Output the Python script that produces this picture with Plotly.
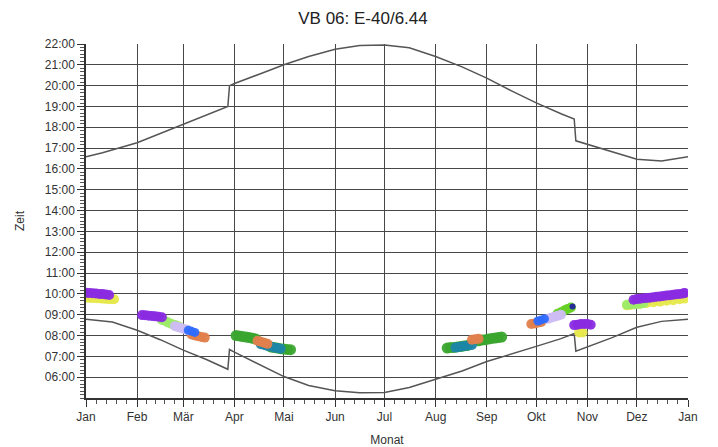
import plotly.graph_objects as go

# ---------------- data ----------------
month_starts = [0, 31, 59, 90, 120, 151, 181, 212, 243, 273, 304, 334, 365]
month_labels = ["Jan", "Feb", "Mär", "Apr", "Mai", "Jun", "Jul", "Aug", "Sep", "Okt", "Nov", "Dez", "Jan"]
hour_ticks = list(range(6, 23))
hour_labels = ["%02d:00" % h for h in hour_ticks]

# sunset curve (upper)
sunset_day = [0, 10, 31, 45, 59, 73, 86, 87, 90, 105, 120, 135, 151, 166, 181, 196, 212, 228, 243,
              258, 273, 288, 296, 297, 304, 319, 334, 349, 365]
sunset_hour = [16.58, 16.78, 17.26, 17.7, 18.17, 18.6, 19.0, 20.0, 20.1, 20.55, 21.0, 21.4, 21.75, 21.93,
               21.95, 21.82, 21.4, 20.9, 20.36, 19.75, 19.17, 18.65, 18.4, 17.35, 17.18, 16.8, 16.47, 16.38, 16.58]

# sunrise curve (lower)
sunrise_day = [0, 16, 31, 45, 59, 73, 86, 87, 90, 105, 120, 135, 151, 166, 181, 196, 212, 228, 243,
               258, 273, 288, 296, 297, 304, 319, 334, 349, 365]
sunrise_hour = [8.78, 8.65, 8.25, 7.8, 7.3, 6.85, 6.38, 7.33, 7.2, 6.6, 6.03, 5.6, 5.35, 5.25, 5.27,
                5.5, 5.9, 6.3, 6.75, 7.1, 7.48, 7.85, 8.1, 7.25, 7.45, 7.9, 8.4, 8.68, 8.78]

# shadow-time clusters (one list pair per colour)
purple_day = [0, 2, 4, 6, 8, 10, 12, 14,
              34, 36, 38, 40, 42, 44, 46,
              296, 298, 300, 302, 304, 306,
              332, 334, 336, 338, 340, 342, 344, 346, 348, 350, 352, 354, 356, 358, 360, 362, 363]
purple_hour = [10.05, 10.04, 10.03, 10.02, 10.0, 9.99, 9.97, 9.95,
               8.98, 8.97, 8.95, 8.94, 8.92, 8.9, 8.88,
               8.5, 8.52, 8.55, 8.55, 8.55, 8.52,
               9.72, 9.75, 9.77, 9.79, 9.8, 9.82, 9.84, 9.86, 9.88, 9.9, 9.92, 9.94, 9.96, 9.98, 10.0, 10.02, 10.04]

yellow_day = [1, 3, 5, 7, 9, 11, 13, 15, 17,
              299, 301,
              328, 330, 332, 336, 340, 344, 348, 352, 356, 360, 363]
yellow_hour = [9.82, 9.8, 9.8, 9.79, 9.78, 9.77, 9.76, 9.75, 9.74,
               8.15, 8.15,
               9.45, 9.47, 9.5, 9.53, 9.56, 9.6, 9.63, 9.67, 9.7, 9.74, 9.78]

lightgreen_day = [46, 48, 50, 52, 54, 56, 328, 330, 332, 334, 336, 338]
lightgreen_hour = [8.75, 8.7, 8.62, 8.55, 8.5, 8.45, 9.48, 9.5, 9.5, 9.52, 9.53, 9.55]

brightgreen_day = [286, 288, 290, 292, 294]
brightgreen_hour = [9.05, 9.12, 9.2, 9.28, 9.35]

lavender_day = [54, 56, 58, 60, 62, 280, 282, 284, 286, 288]
lavender_hour = [8.45, 8.4, 8.35, 8.3, 8.25, 8.8, 8.85, 8.9, 8.95, 9.0]

blue_day = [62, 64, 66, 274, 276, 278]
blue_hour = [8.25, 8.2, 8.15, 8.7, 8.75, 8.8]

orange_day = [64, 66, 68, 70, 72, 104, 106, 108, 110, 234, 236, 238, 270, 272, 274, 276]
orange_hour = [8.05, 8.0, 7.97, 7.93, 7.9, 7.75, 7.7, 7.65, 7.6, 7.8, 7.82, 7.84, 8.55, 8.58, 8.62, 8.65]

green_day = [91, 93, 95, 97, 99, 101, 103, 112, 114, 116, 118, 120, 122, 124,
             219, 221, 223, 225, 227, 229, 231, 238, 240, 242, 244, 246, 248, 250, 252]
green_hour = [8.0, 7.98, 7.95, 7.93, 7.9, 7.87, 7.83, 7.45, 7.42, 7.4, 7.37, 7.35, 7.33, 7.32,
              7.4, 7.42, 7.43, 7.45, 7.47, 7.5, 7.52, 7.75, 7.78, 7.8, 7.83, 7.86, 7.88, 7.9, 7.93]

teal_day = [106, 108, 110, 112, 114, 116, 118, 224, 226, 228, 230, 232, 234]
teal_hour = [7.58, 7.55, 7.5, 7.47, 7.43, 7.4, 7.37, 7.42, 7.45, 7.47, 7.5, 7.52, 7.55]

darkblue_day = [295]
darkblue_hour = [9.4]

# ---------------- figure ----------------
fig = go.Figure()

line_style = dict(color="#555555", width=1.5)
fig.add_trace(go.Scatter(x=sunset_day, y=sunset_hour, mode="lines", line=line_style, showlegend=False,
                         hoverinfo="skip"))
fig.add_trace(go.Scatter(x=sunrise_day, y=sunrise_hour, mode="lines", line=line_style, showlegend=False,
                         hoverinfo="skip"))

clusters = [
    (yellow_day, yellow_hour, "#E6E84C", 10),
    (lightgreen_day, lightgreen_hour, "#9EEB6A", 10),
    (brightgreen_day, brightgreen_hour, "#66D024", 10),
    (green_day, green_hour, "#3AA52E", 11),
    (teal_day, teal_hour, "#1C86A6", 10),
    (orange_day, orange_hour, "#E2804C", 10),
    (lavender_day, lavender_hour, "#CDBDF3", 10),
    (blue_day, blue_hour, "#2F6BFF", 9),
    (purple_day, purple_hour, "#8A2BE2", 10),
    (darkblue_day, darkblue_hour, "#23239E", 6),
]
for d, h, c, s in clusters:
    fig.add_trace(go.Scatter(x=d, y=h, mode="markers",
                             marker=dict(color=c, size=s, line=dict(width=0), opacity=0.95),
                             showlegend=False, hoverinfo="skip"))

# minor x ticks: each month split into five parts
minor_x = []
for a, b in zip(month_starts[:-1], month_starts[1:]):
    for k in range(1, 5):
        minor_x.append(a + (b - a) * k / 5)

font_family = "Liberation Sans, Arial, sans-serif"
grid_col = "#474747"
fig.update_layout(
    width=710, height=439,
    margin=dict(l=78, r=30, t=36, b=49, autoexpand=False),
    paper_bgcolor="white", plot_bgcolor="white",
    font=dict(family=font_family, size=12, color="#333333"),
    title=dict(text="VB 06: E-40/6.44", x=0.5, xanchor="center", y=1 - 10 / 439, yanchor="middle",
               yref="container", font=dict(size=17, color="#222222", family=font_family)),
    xaxis=dict(range=[0, 365], tickmode="array", tickvals=month_starts, ticktext=month_labels,
               showgrid=True, gridcolor=grid_col, gridwidth=1.4, automargin=False,
               showline=True, linecolor="#333333", linewidth=1.5,
               ticks="outside", ticklen=7, tickcolor="#333333", tickwidth=1.2,
               minor=dict(tickmode="array", tickvals=minor_x, ticks="outside", ticklen=4,
                          tickcolor="#555555", showgrid=False),
               zeroline=False, title=dict(text="Monat", standoff=15, font=dict(size=12))),
    yaxis=dict(range=[5, 22], tickmode="array", tickvals=hour_ticks, ticktext=hour_labels,
               showgrid=True, gridcolor=grid_col, gridwidth=1.4, automargin=False,
               showline=True, linecolor="#333333", linewidth=1.5,
               ticks="outside", ticklen=7, tickcolor="#333333", tickwidth=1.2,
               minor=dict(dtick=1 / 6, ticks="outside", ticklen=4, tickcolor="#555555", showgrid=False),
               zeroline=False, title=dict(text="Zeit", standoff=18, font=dict(size=12))),
)

fig.write_html("out.html")
